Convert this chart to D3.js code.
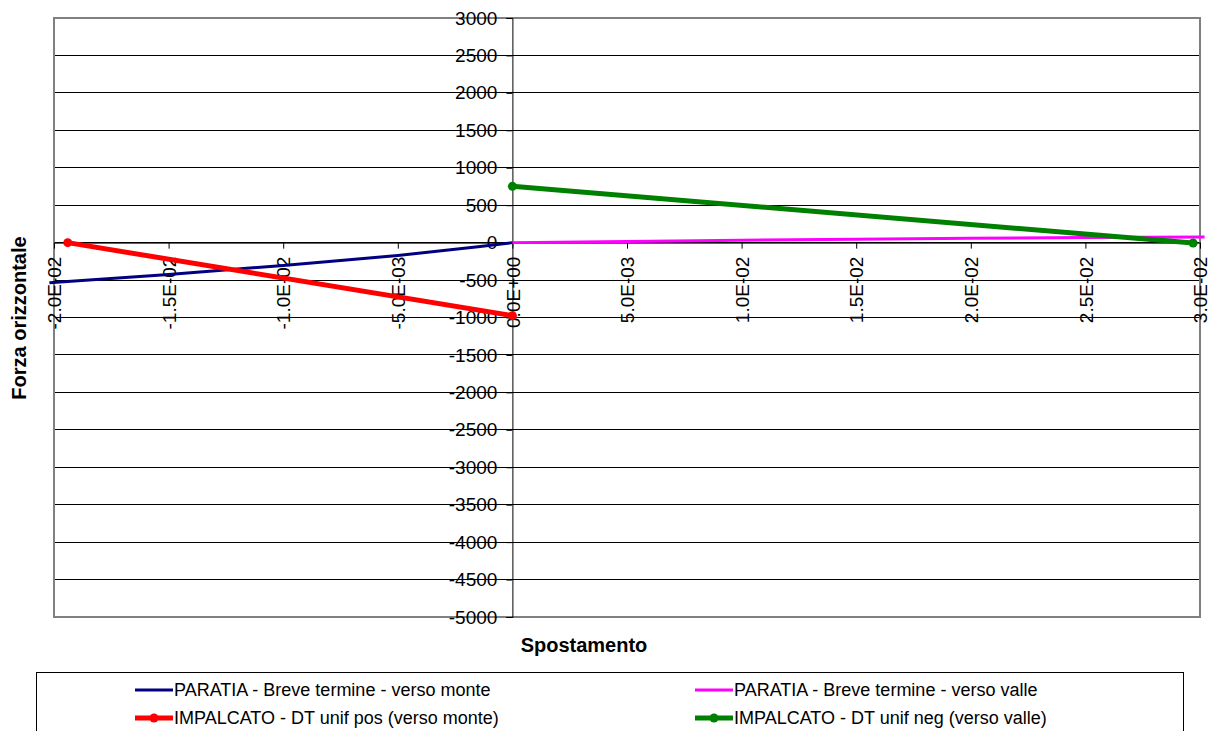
<!DOCTYPE html>
<html><head><meta charset="utf-8">
<script src="https://cdn.jsdelivr.net/npm/d3@7"></script>
<style>
html,body{margin:0;padding:0;background:#fff;}
svg text{font-family:"Liberation Sans",Arial,sans-serif;fill:#000;}
</style></head>
<body>
<svg id="chart" width="1211" height="731"></svg>
<script>
// ---- data ----
const seriesNames = [
  "PARATIA - Breve termine - verso monte",
  "PARATIA - Breve termine - verso valle",
  "IMPALCATO - DT unif pos (verso monte)",
  "IMPALCATO - DT unif neg (verso valle)"
];
const seriesColors = ["#000080", "#FF00FF", "#FF0000", "#008000"];
const bluePts = [[-0.0202,-535],[-0.015,-425],[-0.0124,-362],[-0.01,-305],[-0.005,-172],[-0.0015,-55],[0,0]];
const pinkPts = [[0,0],[0.005,15],[0.01,32],[0.015,45],[0.02,57],[0.025,67],[0.0302,75]];
const redPts = [[-0.0194,0],[0,-975]];
const greenPts = [[0,752],[0.0297,-5]];
const xTicks = [-0.02,-0.015,-0.01,-0.005,0,0.005,0.01,0.015,0.02,0.025,0.03];
const xTickLabels = ["-2.0E-02","-1.5E-02","-1.0E-02","-5.0E-03","0.0E+00","5.0E-03","1.0E-02","1.5E-02","2.0E-02","2.5E-02","3.0E-02"];
const yTicks = [3000,2500,2000,1500,1000,500,0,-500,-1000,-1500,-2000,-2500,-3000,-3500,-4000,-4500,-5000];
const xTitle = "Spostamento";
const yTitle = "Forza orizzontale";

// ---- layout ----
const svg = d3.select("#chart");
const L = 54, R = 1200, T = 18, B = 617;
const x = d3.scaleLinear().domain([-0.02, 0.03]).range([L, R]);
const y = d3.scaleLinear().domain([-5000, 3000]).range([B, T]);
const FONT = "Liberation Sans, Arial, sans-serif";

// grid lines
svg.append("g").selectAll("line").data(yTicks.filter(v=>v!==3000 && v!==-5000)).join("line")
  .attr("x1",L).attr("x2",R).attr("y1",d=>y(d)).attr("y2",d=>y(d))
  .attr("stroke","#000").attr("stroke-width",1).attr("shape-rendering","crispEdges");

// border
svg.append("rect").attr("x",L).attr("y",T).attr("width",R-L).attr("height",B-T)
  .attr("fill","none").attr("stroke","#808080").attr("stroke-width",1.5).attr("shape-rendering","crispEdges");

// y axis at x=0
const yAxis = d3.axisLeft(y).tickValues(yTicks).tickFormat(d=>String(d)).tickSize(6).tickPadding(9);
const gy = svg.append("g").attr("transform",`translate(${x(0)},0)`).call(yAxis);
gy.select(".domain").attr("stroke","#000");
gy.selectAll(".tick line").attr("stroke","#000");
gy.selectAll("text").attr("font-size","19px").attr("font-family",FONT).attr("fill","#000");

// x axis at y=0
const xAxis = d3.axisBottom(x).tickValues(xTicks).tickFormat((d,i)=>xTickLabels[i]).tickSize(6).tickSizeOuter(0);
const gx = svg.append("g").attr("transform",`translate(0,${y(0)})`).call(xAxis);
gx.select(".domain").attr("stroke","#000");
gx.selectAll(".tick line").attr("stroke","#000");
gx.selectAll("text").attr("font-size","19px").attr("font-family",FONT).attr("fill","#000")
  .attr("transform","rotate(-90)").attr("text-anchor","end")
  .attr("x",-14).attr("y",0).attr("dy","0.35em");

// lines
const line = d3.line().x(d=>x(d[0])).y(d=>y(d[1]));
const series = [
  {pts: bluePts, color: seriesColors[0], w: 3, marker: false},
  {pts: pinkPts, color: seriesColors[1], w: 3, marker: false},
  {pts: redPts, color: seriesColors[2], w: 5, marker: true},
  {pts: greenPts, color: seriesColors[3], w: 5, marker: true}
];
series.forEach(s=>{
  svg.append("path").datum(s.pts).attr("d",line).attr("fill","none")
    .attr("stroke",s.color).attr("stroke-width",s.w).attr("stroke-linejoin","round");
  if (s.marker) {
    svg.append("g").selectAll("circle").data(s.pts).join("circle")
      .attr("cx",d=>x(d[0])).attr("cy",d=>y(d[1])).attr("r",4.5).attr("fill",s.color);
  }
});

// axis titles
svg.append("text").attr("x",584).attr("y",652).attr("text-anchor","middle")
  .attr("font-weight","bold").attr("font-size","20px").text(xTitle);
svg.append("text").attr("transform","translate(26,318) rotate(-90)").attr("text-anchor","middle")
  .attr("font-weight","bold").attr("font-size","20px").text(yTitle);

// legend
svg.append("rect").attr("x",36).attr("y",672).attr("width",1147).attr("height",80)
  .attr("fill","#fff").attr("stroke","#000").attr("stroke-width",1).attr("shape-rendering","crispEdges");
const legPos = [[135,690],[695,690],[135,718],[695,718]];
series.forEach((s,i)=>{
  const [lx,ly] = legPos[i];
  const g = svg.append("g");
  g.append("line").attr("x1",lx).attr("x2",lx+38).attr("y1",ly).attr("y2",ly)
    .attr("stroke",s.color).attr("stroke-width",s.w);
  if (s.marker) g.append("circle").attr("cx",lx+19).attr("cy",ly).attr("r",4.5).attr("fill",s.color);
  g.append("text").attr("x",lx+39).attr("y",ly).attr("dominant-baseline","central")
    .attr("font-size","18px").text(seriesNames[i]);
});
</script>
</body></html>
